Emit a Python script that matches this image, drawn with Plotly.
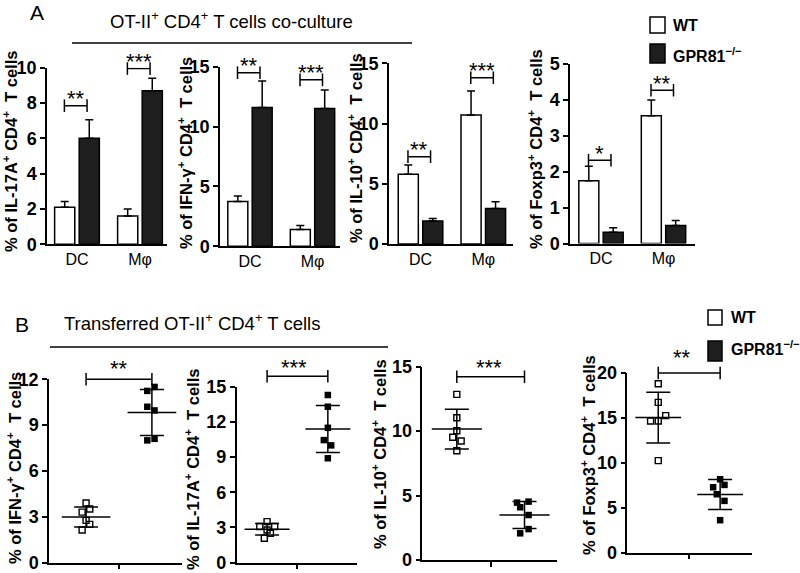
import plotly.graph_objects as go

W, H = 800, 573
FONT = "Liberation Sans, Arial, Helvetica, sans-serif"

# ---------------- Panel A: co-culture, mean + SEM ----------------
A_CATS = ["DC", "Mφ"]
IL17_WT = [2.1, 1.6];    IL17_WT_SEM = [0.32, 0.40]
IL17_KO = [6.0, 8.7];    IL17_KO_SEM = [1.05, 0.70]
IFNG_WT = [3.75, 1.4];   IFNG_WT_SEM = [0.45, 0.33]
IFNG_KO = [11.6, 11.5];  IFNG_KO_SEM = [2.2, 1.55]
IL10_WT = [5.8, 10.7];   IL10_WT_SEM = [0.75, 2.0]
IL10_KO = [1.9, 2.95];   IL10_KO_SEM = [0.22, 0.55]
FOXP3_WT = [1.75, 3.56]; FOXP3_WT_SEM = [0.40, 0.44]
FOXP3_KO = [0.31, 0.50]; FOXP3_KO_SEM = [0.13, 0.14]
A_SIG_Y = [[7.85, 9.95], [14.5, 13.9], [7.25, 13.8], [2.32, 4.27]]
A_STARS = [["**", "***"], ["**", "***"], ["**", "***"], ["*", "**"]]
A_YTICKS = [[0, 2, 4, 6, 8, 10], [0, 5, 10, 15], [0, 5, 10, 15], [0, 1, 2, 3, 4, 5]]
A_YMAX = [10, 15, 15, 5]
A_TITLES = ["IL-17A", "IFN-γ", "IL-10", "Foxp3"]

# ---------------- Panel B: transferred cells, individual mice ----------------
B_IFNG_WT = [3.9, 3.3, 3.5, 2.76, 2.5, 2.13]
B_IFNG_KO = [11.5, 11.24, 10.2, 9.96, 8.0, 8.1]
B_IL17_WT = [3.49, 3.07, 3.07, 2.78, 2.5, 2.07]
B_IL17_KO = [14.3, 13.3, 11.5, 10.45, 10.0, 8.9]
B_IL10_WT = [12.85, 11.04, 10.03, 9.52, 9.23, 8.48]
B_IL10_KO = [4.45, 4.53, 4.09, 3.49, 2.4, 2.07]
B_FOXP3_WT = [18.81, 16.73, 15.25, 14.66, 14.66, 10.24]
B_FOXP3_KO = [8.16, 7.53, 7.27, 6.49, 5.75, 3.6]
B_MEAN_WT = [2.98, 2.84, 10.16, 15.03]
B_SD_WT = [0.66, 0.50, 1.54, 2.83]
B_MEAN_KO = [9.83, 11.4, 3.49, 6.46]
B_SD_KO = [1.51, 2.0, 1.04, 1.67]
B_SIG_Y = [12.0, 15.9, 14.22, 20.0]
B_STARS = ["**", "***", "***", "**"]
B_YTICKS = [[0, 3, 6, 9, 12], [0, 3, 6, 9, 12, 15], [0, 5, 10, 15], [0, 5, 10, 15, 20]]
B_YMAX = [12, 15, 15, 20]
B_TITLES = ["IFN-γ", "IL-17A", "IL-10", "Foxp3"]

# styling: horizontal jitter of dots (style only)
B_JIT_WT = [[0, -0.06, 0.056, 0, 0.056, -0.06], [0, -0.12, 0.125, 0, 0.055, -0.045],
            [0, 0, 0, -0.06, 0.064, 0], [0, 0, 0.12, -0.124, 0, 0]]
B_JIT_KO = [[0.04, -0.07, -0.07, 0.04, -0.07, 0.04], [0, 0, 0, -0.066, 0.055, 0],
            [-0.11, 0.06, -0.064, 0.06, 0.06, -0.064], [0, 0.07, -0.113, -0.054, 0.07, 0]]

A_WT = [IL17_WT, IFNG_WT, IL10_WT, FOXP3_WT]
A_WT_E = [IL17_WT_SEM, IFNG_WT_SEM, IL10_WT_SEM, FOXP3_WT_SEM]
A_KO = [IL17_KO, IFNG_KO, IL10_KO, FOXP3_KO]
A_KO_E = [IL17_KO_SEM, IFNG_KO_SEM, IL10_KO_SEM, FOXP3_KO_SEM]
B_WT = [B_IFNG_WT, B_IL17_WT, B_IL10_WT, B_FOXP3_WT]
B_KO = [B_IFNG_KO, B_IL17_KO, B_IL10_KO, B_FOXP3_KO]

# pixel layout: (x_left, x_right, y_top, y_bottom, xmin, xmax)
A_BOX = [(47, 167, 67.7, 244.3, -0.476, 1.429),
         (220, 340, 66.7, 246.3, -0.48, 1.44),
         (389, 513, 63.3, 244.0, -0.502, 1.473),
         (570, 695, 64.0, 243.5, -0.496, 1.504)]
B_BOX = [(49, 182, 379.3, 562.5, -0.563, 1.457),
         (236.7, 357, 386.8, 562.5, -0.50, 1.48),
         (422.3, 557, 366.7, 560.0, -0.51, 1.48),
         (627.3, 751.7, 373.0, 552.5, -0.50, 1.51)]
A_YTITLE_POS = [(10, 152), (185, 153), (355, 148), (535, 149)]
B_YTITLE_POS = [(14, 468), (192, 470), (379, 454), (588, 455)]
B_STAR_DX = [0.0, -0.05, -0.03, -0.11]
B_STAR_SHIFT = [11, 9, 9, 16]
EXT = 40  # extra px above B plots for the significance layer

fig = go.Figure()
annotations = []
shapes = []


def px_x(p):
    return p / W


def px_y(p):
    return 1 - p / H


def ytitle(text, pos):
    annotations.append(dict(text=text, x=px_x(pos[0]), y=px_y(pos[1]), xref="paper", yref="paper",
                            textangle=-90, showarrow=False, xanchor="center", yanchor="middle",
                            font=dict(family=FONT, size=16.5, color="black", weight="bold")))


layout_axes = {}
axis_common = dict(showline=True, linecolor="black", linewidth=1.5, showgrid=False, zeroline=False,
                   automargin=False, fixedrange=True)
TICKFONT = dict(family=FONT, size=18, color="black", weight="bold")

n = 0
# ----- Panel A -----
for i in range(4):
    n += 1
    xs = "" if n == 1 else str(n)
    x0, x1, yt, yb, xmn, xmx = A_BOX[i]
    layout_axes["xaxis" + xs] = dict(axis_common, domain=[px_x(x0), px_x(x1)], range=[xmn, xmx],
                                     anchor="y" + xs, tickvals=[0, 1], ticktext=A_CATS, ticks="",
                                     ticklabeloverflow="allow",
                                     tickfont=dict(family=FONT, size=16, color="black"))
    layout_axes["yaxis" + xs] = dict(axis_common, domain=[px_y(yb), px_y(yt)], range=[0, A_YMAX[i]],
                                     anchor="x" + xs, tickvals=A_YTICKS[i], ticks="outside", ticklen=5,
                                     ticklabeloverflow="allow",
                                     tickwidth=1.5, tickcolor="black", tickfont=TICKFONT)
    xa, ya = "x" + xs, "y" + xs
    fig.add_trace(go.Bar(x=[0, 1], y=A_WT[i], width=0.32, offset=-0.355, xaxis=xa, yaxis=ya,
                         marker=dict(color="white", line=dict(color="black", width=1.5)),
                         error_y=dict(type="data", symmetric=False, array=A_WT_E[i], arrayminus=[0, 0],
                                      color="black", thickness=1.5, width=4),
                         showlegend=False))
    fig.add_trace(go.Bar(x=[0, 1], y=A_KO[i], width=0.32, offset=0.035, xaxis=xa, yaxis=ya,
                         marker=dict(color="#1e1e1e", line=dict(color="black", width=1.5)),
                         error_y=dict(type="data", symmetric=False, array=A_KO_E[i], arrayminus=[0, 0],
                                      color="black", thickness=1.5, width=4),
                         showlegend=False))
    sy = A_SIG_Y[i]
    fig.add_trace(go.Scatter(x=[-0.2, 0.16, None, 0.8, 1.16], y=[sy[0], sy[0], None, sy[1], sy[1]],
                             mode="lines+markers", xaxis=xa, yaxis=ya, cliponaxis=False,
                             line=dict(color="black", width=1.5),
                             marker=dict(symbol="line-ns", size=9, line=dict(color="black", width=1.5)),
                             showlegend=False, hoverinfo="skip"))
    for k in range(2):
        annotations.append(dict(text=A_STARS[i][k], x=k - 0.02, y=sy[k], xref=xa, yref=ya,
                                showarrow=False, xanchor="center", yanchor="middle", yshift=7,
                                font=dict(family=FONT, size=22, color="black")))
    ytitle("% of " + A_TITLES[i] + "<sup>+</sup> CD4<sup>+</sup>\u00a0 T cells", A_YTITLE_POS[i])

# ----- Panel B -----
for i in range(4):
    n += 1
    xs = str(n)
    ss = str(n + 4)  # helper y axis (same scale, taller) for significance bars
    x0, x1, yt, yb, xmn, xmx = B_BOX[i]
    layout_axes["xaxis" + xs] = dict(axis_common, domain=[px_x(x0), px_x(x1)], range=[xmn, xmx],
                                     anchor="y" + xs, tickvals=[0.5], ticktext=[""], ticks="outside",
                                     ticklen=5, tickwidth=1.5, tickcolor="black")
    layout_axes["yaxis" + xs] = dict(axis_common, domain=[px_y(yb), px_y(yt)], range=[0, B_YMAX[i]],
                                     anchor="x" + xs, tickvals=B_YTICKS[i], ticks="outside", ticklen=5,
                                     ticklabeloverflow="allow",
                                     tickwidth=1.5, tickcolor="black", tickfont=TICKFONT)
    layout_axes["yaxis" + ss] = dict(domain=[px_y(yb), px_y(yt - EXT)],
                                     range=[0, B_YMAX[i] * (yb - yt + EXT) / (yb - yt)],
                                     anchor="x" + xs, visible=False, fixedrange=True,
                                     showgrid=False, zeroline=False)
    xa, ya, sa = "x" + xs, "y" + xs, "y" + ss
    fig.add_trace(go.Scatter(x=[0 + j for j in B_JIT_WT[i]], y=B_WT[i], mode="markers",
                             xaxis=xa, yaxis=ya, cliponaxis=False, showlegend=False,
                             marker=dict(symbol="square-open", size=6, color="black",
                                         line=dict(color="black", width=1.4))))
    fig.add_trace(go.Scatter(x=[1 + j for j in B_JIT_KO[i]], y=B_KO[i], mode="markers",
                             xaxis=xa, yaxis=ya, cliponaxis=False, showlegend=False,
                             marker=dict(symbol="square", size=6.5, color="black")))
    fig.add_trace(go.Scatter(x=[0, 1], y=[B_MEAN_WT[i], B_MEAN_KO[i]], mode="markers",
                             xaxis=xa, yaxis=ya, cliponaxis=False, showlegend=False,
                             marker=dict(size=1, opacity=0),
                             error_x=dict(type="constant", value=0.37, width=0, color="black", thickness=1.5),
                             error_y=dict(type="data", array=[B_SD_WT[i], B_SD_KO[i]], width=12,
                                          color="black", thickness=1.5)))
    sy = B_SIG_Y[i]
    fig.add_trace(go.Scatter(x=[0, 1], y=[sy, sy], mode="lines+markers", xaxis=xa, yaxis=sa,
                             cliponaxis=False, line=dict(color="black", width=1.5),
                             marker=dict(symbol="line-ns", size=9, line=dict(color="black", width=1.5)),
                             showlegend=False, hoverinfo="skip"))
    annotations.append(dict(text=B_STARS[i], x=0.5 + B_STAR_DX[i], y=sy, xref=xa, yref=sa,
                            showarrow=False, xanchor="center", yanchor="middle", yshift=B_STAR_SHIFT[i],
                            font=dict(family=FONT, size=22, color="black")))
    ytitle("% of " + B_TITLES[i] + "<sup>+</sup> CD4<sup>+</sup>\u00a0 T cells", B_YTITLE_POS[i])


def text_px(text, x, y, size, xanchor="left", bold=False):
    annotations.append(dict(text=text, x=px_x(x), y=px_y(y), xref="paper", yref="paper",
                            showarrow=False, xanchor=xanchor, yanchor="middle",
                            font=dict(family=FONT, size=size, color="black",
                                      weight="bold" if bold else "normal")))


def line_px(x0, x1, y):
    shapes.append(dict(type="line", xref="paper", yref="paper", x0=px_x(x0), x1=px_x(x1),
                       y0=px_y(y), y1=px_y(y), line=dict(color="black", width=1.5)))


def box_px(x0, x1, y0, y1, fill):
    shapes.append(dict(type="rect", xref="paper", yref="paper", x0=px_x(x0), x1=px_x(x1),
                       y0=px_y(y1), y1=px_y(y0), fillcolor=fill, line=dict(color="black", width=1.5)))


# headers
text_px("A", 37, 12, 21, xanchor="center")
text_px("OT-II<sup>+</sup> CD4<sup>+</sup> T cells co-culture", 232, 20, 18.5, xanchor="center")
line_px(72, 412, 43)
text_px("B", 22, 324, 21, xanchor="center")
text_px("Transferred OT-II<sup>+</sup> CD4<sup>+</sup> T cells", 62, 322, 18.5)
line_px(50, 388, 347)

# legends
box_px(650, 665, 17, 33, "white")
box_px(650, 665, 44, 63, "#1e1e1e")
text_px("WT", 671, 25, 16, bold=True)
text_px("GPR81<sup>−/−</sup>", 671, 55, 16, bold=True)
box_px(708, 722, 310, 325, "white")
box_px(708, 722, 341, 361, "#1e1e1e")
text_px("WT", 729, 317, 16, bold=True)
text_px("GPR81<sup>−/−</sup>", 729, 348, 16, bold=True)

fig.update_layout(width=W, height=H, margin=dict(l=0, r=0, t=0, b=0),
                  paper_bgcolor="white", plot_bgcolor="rgba(0,0,0,0)",
                  showlegend=False, annotations=annotations, shapes=shapes,
                  font=dict(family=FONT, color="black"), **layout_axes)

fig.write_html("out.html", config={"displayModeBar": False},
               post_script="document.body.style.margin='0';")
